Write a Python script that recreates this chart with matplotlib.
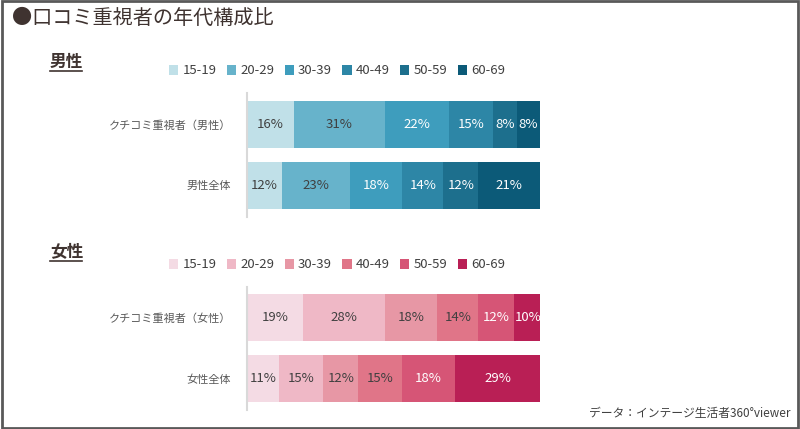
import matplotlib.pyplot as plt
from matplotlib.lines import Line2D
from matplotlib.patches import Rectangle
import numpy as np

plt.rcParams['font.family'] = ['Noto Sans CJK JP', 'DejaVu Sans']

ages = ["15-19", "20-29", "30-39", "40-49", "50-59", "60-69"]

male_rows = ["クチコミ重視者（男性）", "男性全体"]
male_vals = [[16, 31, 22, 15, 8, 8],
             [12, 23, 18, 14, 12, 21]]
male_colors = ["#c0e0e8", "#67b3cb", "#3e9dbd", "#2d86a6", "#1d6f8d", "#0c5a78"]

female_rows = ["クチコミ重視者（女性）", "女性全体"]
female_vals = [[19, 28, 18, 14, 12, 10],
               [11, 15, 12, 15, 18, 29]]
female_colors = ["#f4dbe4", "#efb8c6", "#e797a5", "#e07588", "#d65576", "#b91f55"]

dark = "#404040"


def stacked(ax, rows, vals, colors, n_dark):
    vals = np.array(vals)
    y = np.arange(len(rows))
    left = np.zeros(len(rows))
    handles = []
    for i, age in enumerate(ages):
        bars = ax.barh(y, vals[:, i], left=left, height=0.77, color=colors[i],
                       edgecolor="none", label=age)
        handles.append(bars)
        tc = dark if i < n_dark else "white"
        for j in range(len(rows)):
            ax.text(left[j] + vals[j, i] / 2, y[j], f"{vals[j, i]}%", ha="center",
                    va="center", fontsize=9.5, color=tc)
        left += vals[:, i]
    ax.set_xlim(0, 100)
    ax.set_ylim(1.52, -0.51)
    ax.set_yticks(y)
    ax.set_yticklabels(rows, fontsize=8, color="#595959")
    ax.set_xticks([])
    ax.tick_params(left=False, pad=8)
    for s in ["top", "right", "bottom"]:
        ax.spines[s].set_visible(False)
    ax.spines["left"].set_color("#d9d9d9")
    ax.spines["left"].set_linewidth(1.5)
    return handles


fig = plt.figure(figsize=(8, 4.29), dpi=100)

ax1 = fig.add_axes([247 / 800, 0.494, 293 / 800, 0.289])
h1 = stacked(ax1, male_rows, male_vals, male_colors, 2)
ax2 = fig.add_axes([247 / 800, 0.0443, 293 / 800, 0.287])
h2 = stacked(ax2, female_rows, female_vals, female_colors, 4)

for h, yy in [(h1, 1 - 71 / 429), (h2, 1 - 265 / 429)]:
    fig.legend(handles=h, labels=ages, loc="center", bbox_to_anchor=(337 / 800, yy),
               ncol=6, frameon=False, fontsize=9.5, handlelength=0.7, handleheight=0.7,
               handletextpad=0.3, columnspacing=0.8, labelcolor=dark)

# title and section headers
fig.text(12 / 800, 1 - 18 / 429, "●口コミ重視者の年代構成比", fontsize=14.5,
         color="#3f3330", va="center", ha="left")
for label, yy in [("男性", 62), ("女性", 252)]:
    fig.text(50 / 800, 1 - yy / 429, label, fontsize=12, fontweight="bold",
             color="#3f3330", va="center", ha="left")
    fig.add_artist(Line2D([50 / 800, 82 / 800], [1 - (yy + 9) / 429] * 2,
                          color="#3f3330", lw=1.2))

fig.text(790 / 800, 1 - 413 / 429, "データ：インテージ生活者360°viewer", fontsize=8.5,
         color=dark, ha="right", va="center")

# outer frame
fig.add_artist(Rectangle((0.002, 0.003), 0.996, 0.994, transform=fig.transFigure,
                         fill=False, edgecolor="#595959", lw=2))

fig.savefig("out.png", dpi=100)
